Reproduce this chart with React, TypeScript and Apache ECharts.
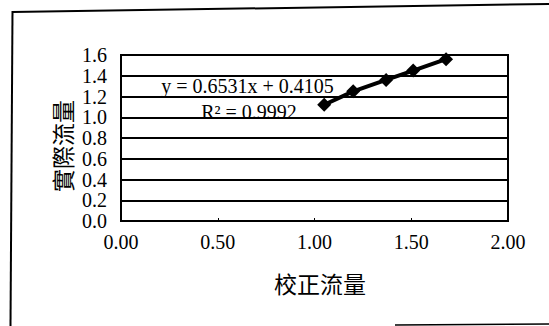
import React, { useEffect, useRef } from "react";
import * as echarts from "echarts";

const calibratedFlow = [1.05, 1.2, 1.37, 1.51, 1.68];
const actualFlow = [1.12, 1.25, 1.36, 1.45, 1.56];
const xTicks = [0, 0.5, 1.0, 1.5, 2.0];
const yTicks = [0, 0.2, 0.4, 0.6, 0.8, 1.0, 1.2, 1.4, 1.6];
const equationText = "y = 0.6531x + 0.4105";
const r2Text = "R² = 0.9992";
const xName = "校正流量";
const yName = "實際流量";

const SERIF = "'Liberation Serif', 'DejaVu Serif', serif";
const CJK = "'Noto Sans CJK TC', 'Noto Sans CJK SC', sans-serif";

export default function App() {
  const ref = useRef<HTMLDivElement>(null);
  useEffect(() => {
    document.body.style.margin = "0";
    if (!ref.current) return;
    const chart = echarts.init(ref.current, undefined, { renderer: "svg" });
    const points = calibratedFlow.map((x, i) => [x, actualFlow[i]]);
    chart.setOption({
      animation: false,
      backgroundColor: "#ffffff",
      grid: {
        left: 121,
        top: 55,
        width: 387,
        height: 166,
        show: true,
        borderColor: "#000",
        borderWidth: 2,
        backgroundColor: "transparent",
      },
      xAxis: {
        type: "value",
        min: xTicks[0],
        max: xTicks[xTicks.length - 1],
        interval: 0.5,
        axisLine: { show: true, lineStyle: { color: "#000", width: 2 } },
        axisTick: { show: true, inside: true, length: 3, lineStyle: { color: "#000" } },
        splitLine: { show: false },
        axisLabel: {
          margin: 11,
          color: "#000",
          fontFamily: SERIF,
          fontSize: 20,
          formatter: (v: number) => v.toFixed(2),
        },
      },
      yAxis: {
        type: "value",
        min: yTicks[0],
        max: yTicks[yTicks.length - 1],
        interval: 0.2,
        axisLine: { show: true, lineStyle: { color: "#000", width: 2 } },
        axisTick: { show: false },
        splitLine: { show: true, lineStyle: { color: "#000", width: 2 } },
        axisLabel: {
          margin: 14,
          color: "#000",
          fontFamily: SERIF,
          fontSize: 20,
          formatter: (v: number) => v.toFixed(1),
        },
      },
      series: [
        {
          type: "line",
          data: points,
          symbol: "diamond",
          symbolSize: 14,
          lineStyle: { color: "#000", width: 4 },
          itemStyle: { color: "#000" },
          z: 5,
        },
      ],
      graphic: [
        {
          type: "text",
          x: 247.5,
          y: 86,
          style: {
            text: equationText,
            font: `20px ${SERIF}`,
            fill: "#000",
            textAlign: "center",
            textVerticalAlign: "middle",
          },
        },
        {
          type: "text",
          x: 249,
          y: 112,
          style: {
            text: r2Text,
            font: `20px ${SERIF}`,
            fill: "#000",
            textAlign: "center",
            textVerticalAlign: "middle",
          },
        },
        {
          type: "text",
          x: 320,
          y: 283,
          style: {
            text: xName,
            font: `23px ${CJK}`,
            fill: "#000",
            textAlign: "center",
            textVerticalAlign: "middle",
          },
        },
        {
          type: "text",
          x: 62,
          y: 146,
          rotation: Math.PI / 2,
          style: {
            text: yName,
            font: `23px ${CJK}`,
            fill: "#000",
            textAlign: "center",
            textVerticalAlign: "middle",
          },
        },
        {
          type: "line",
          shape: { x1: 12, y1: 12, x2: 549, y2: 4 },
          style: { stroke: "#000", lineWidth: 2 },
        },
        {
          type: "line",
          shape: { x1: 12.5, y1: 11, x2: 10.5, y2: 326 },
          style: { stroke: "#000", lineWidth: 2 },
        },
        {
          type: "line",
          shape: { x1: 395, y1: 325, x2: 549, y2: 324 },
          style: { stroke: "#000", lineWidth: 1.5 },
        },
      ],
    });
    return () => chart.dispose();
  }, []);
  return <div ref={ref} style={{ width: 549, height: 326 }} />;
}
